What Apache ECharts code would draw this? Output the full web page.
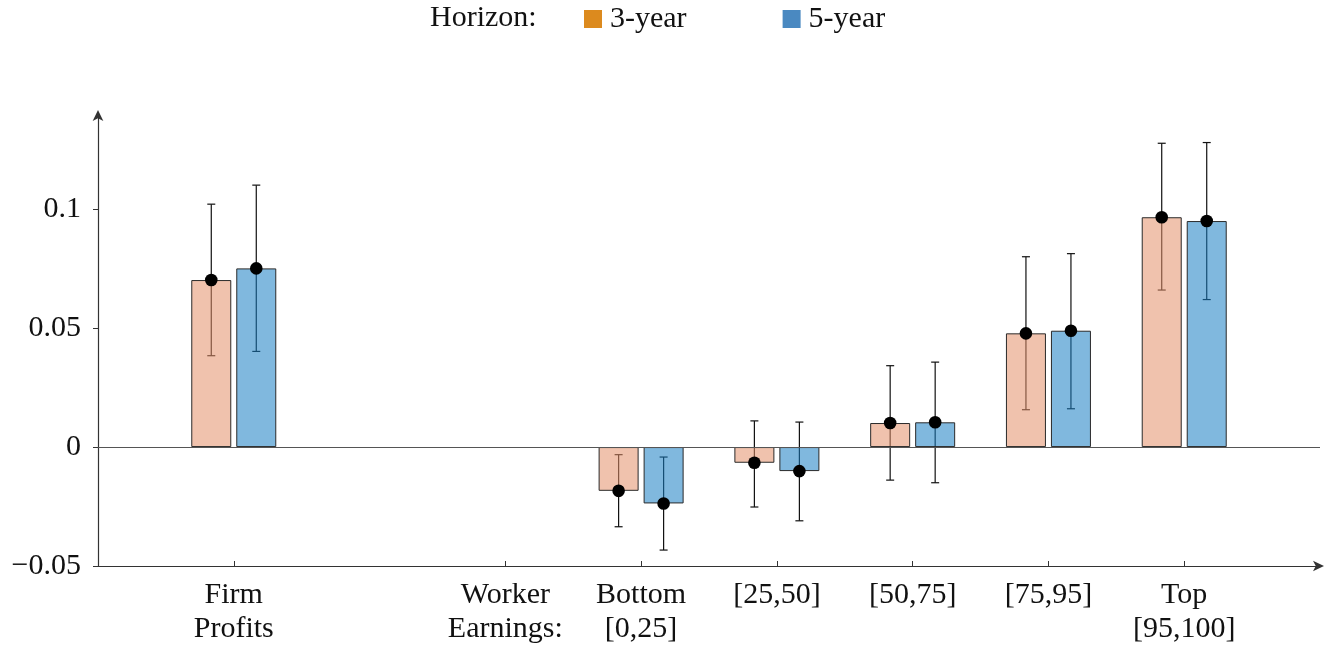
<!DOCTYPE html>
<html>
<head>
<meta charset="utf-8">
<script src="https://cdn.jsdelivr.net/npm/echarts@6/dist/echarts.min.js"></script>
<style>
html,body{margin:0;padding:0;background:#fff;}
#chart{width:1327px;height:650px;}
</style>
</head>
<body>
<div id="chart"></div>
<script>
// ---- data ----
const categories = ['', 'Firm\nProfits', '', 'Worker\nEarnings:', 'Bottom\n[0,25]', '[25,50]', '[50,75]', '[75,95]', 'Top\n[95,100]', ''];
const groups = ['Firm\nProfits', 'Bottom\n[0,25]', '[25,50]', '[50,75]', '[75,95]', 'Top\n[95,100]'];
const tickCategories = ['Firm\nProfits', 'Worker\nEarnings:', 'Bottom\n[0,25]', '[25,50]', '[50,75]', '[75,95]', 'Top\n[95,100]'];
const threeYear   = [0.0702, -0.0184, -0.0066, 0.0101, 0.0478, 0.0966];
const threeYearLo = [0.0384, -0.0335, -0.0252, -0.0139, 0.0157, 0.0660];
const threeYearHi = [0.1021, -0.0032, 0.0110, 0.0342, 0.0800, 0.1277];
const fiveYear    = [0.0751, -0.0237, -0.0101, 0.0104, 0.0489, 0.0950];
const fiveYearLo  = [0.0402, -0.0433, -0.0310, -0.0150, 0.0161, 0.0620];
const fiveYearHi  = [0.1101, -0.0042, 0.0105, 0.0357, 0.0813, 0.1280];
const yTicks = [-0.05, 0, 0.05, 0.1];
const seriesNames = ['3-year', '5-year'];

// ---- build ----
const FONT = 'Liberation Serif';
const FS = 30;
const barColors = ['rgba(228,144,106,0.55)', 'rgba(24,126,195,0.55)'];
const legendColors = ['#DC8A1E', '#4A89C1'];
const OFFSET = 22.5;

function barData(vals) {
  const arr = categories.map(() => '-');
  groups.forEach((g, i) => { arr[categories.indexOf(g)] = vals[i]; });
  return arr;
}
function errData(vals, lo, hi) {
  return groups.map((g, i) => [categories.indexOf(g), vals[i], lo[i], hi[i]]);
}

function errRender(off) {
  return function (params, api) {
    const x = api.coord([api.value(0), 0])[0] + off;
    const yLo = api.coord([api.value(0), api.value(2)])[1];
    const yHi = api.coord([api.value(0), api.value(3)])[1];
    const st = { stroke: '#111', lineWidth: 1.2 };
    const c = 4;
    return {
      type: 'group',
      children: [
        { type: 'line', shape: { x1: x, y1: yLo, x2: x, y2: yHi }, style: st },
        { type: 'line', shape: { x1: x - c, y1: yLo, x2: x + c, y2: yLo }, style: st },
        { type: 'line', shape: { x1: x - c, y1: yHi, x2: x + c, y2: yHi }, style: st }
      ]
    };
  };
}
function dotRender(off) {
  return function (params, api) {
    const p = api.coord([api.value(0), api.value(1)]);
    return { type: 'circle', shape: { cx: p[0] + off, cy: p[1], r: 6.3 }, style: { fill: '#000' } };
  };
}

const chart = echarts.init(document.getElementById('chart'), null, { renderer: 'canvas' });
const option = {
  animation: false,
  backgroundColor: '#fff',
  textStyle: { fontFamily: FONT },
  graphic: [{
    type: 'text', left: 430, top: 3,
    style: { text: 'Horizon:', font: FS + 'px "Liberation Serif"', fill: '#111' }
  }],
  legend: {
    left: 579, top: -1,
    itemWidth: 18, itemHeight: 18, itemGap: 96,
    icon: 'rect',
    textStyle: { fontFamily: FONT, fontSize: FS, color: '#111', padding: [0, 0, 0, 3] },
    data: seriesNames.map((n, i) => ({ name: n, itemStyle: { color: legendColors[i], borderWidth: 0 } }))
  },
  grid: { left: 98, right: 7, top: 114, bottom: 84, containLabel: false },
  xAxis: {
    type: 'category',
    data: categories,
    boundaryGap: false,
    axisLine: { onZero: false, symbol: ['none', 'arrow'], symbolSize: [8, 11], symbolOffset: [0, 4], lineStyle: { color: '#333', width: 1.2 } },
    axisTick: {
      show: true, inside: true, length: 5,
      interval: (idx, val) => tickCategories.indexOf(val) >= 0,
      lineStyle: { color: '#333', width: 1 }
    },
    axisLabel: {
      interval: 0, margin: 12, fontFamily: FONT, fontSize: FS, lineHeight: 34, color: '#111'
    },
    splitLine: { show: false }
  },
  yAxis: {
    type: 'value',
    min: -0.05, max: 0.14, interval: 0.05,
    axisLine: { show: true, onZero: false, symbol: ['none', 'arrow'], symbolSize: [8, 11], symbolOffset: [0, 4], lineStyle: { color: '#333', width: 1.2 } },
    axisTick: { show: true, customValues: yTicks, length: 5, lineStyle: { color: '#333', width: 1 } },
    axisLabel: {
      customValues: yTicks, margin: 17, fontFamily: FONT, fontSize: FS, color: '#111',
      formatter: v => (v < 0 ? '\u2212' : '') + String(Math.abs(Math.round(v * 1000) / 1000))
    },
    splitLine: { show: false }
  },
  series: [
    {
      name: seriesNames[0], type: 'bar', data: barData(threeYear), barWidth: 40, barGap: '12.5%', z: 3,
      itemStyle: { color: barColors[0], borderColor: '#2a2a2a', borderWidth: 1 },
      markLine: {
        silent: true, symbol: ['none', 'none'], label: { show: false },
        lineStyle: { color: '#555', width: 1.1, type: 'solid' },
        data: [{ yAxis: 0 }]
      }
    },
    {
      name: seriesNames[1], type: 'bar', data: barData(fiveYear), barWidth: 40, z: 3,
      itemStyle: { color: barColors[1], borderColor: '#2a2a2a', borderWidth: 1 }
    },
    { type: 'custom', name: 'err3', data: errData(threeYear, threeYearLo, threeYearHi), renderItem: errRender(-OFFSET), z: 1, silent: true },
    { type: 'custom', name: 'err5', data: errData(fiveYear, fiveYearLo, fiveYearHi), renderItem: errRender(OFFSET), z: 1, silent: true },
    { type: 'custom', name: 'dot3', data: errData(threeYear, threeYearLo, threeYearHi), renderItem: dotRender(-OFFSET), z: 5, silent: true },
    { type: 'custom', name: 'dot5', data: errData(fiveYear, fiveYearLo, fiveYearHi), renderItem: dotRender(OFFSET), z: 5, silent: true }
  ]
};
chart.setOption(option);
</script>
</body>
</html>
